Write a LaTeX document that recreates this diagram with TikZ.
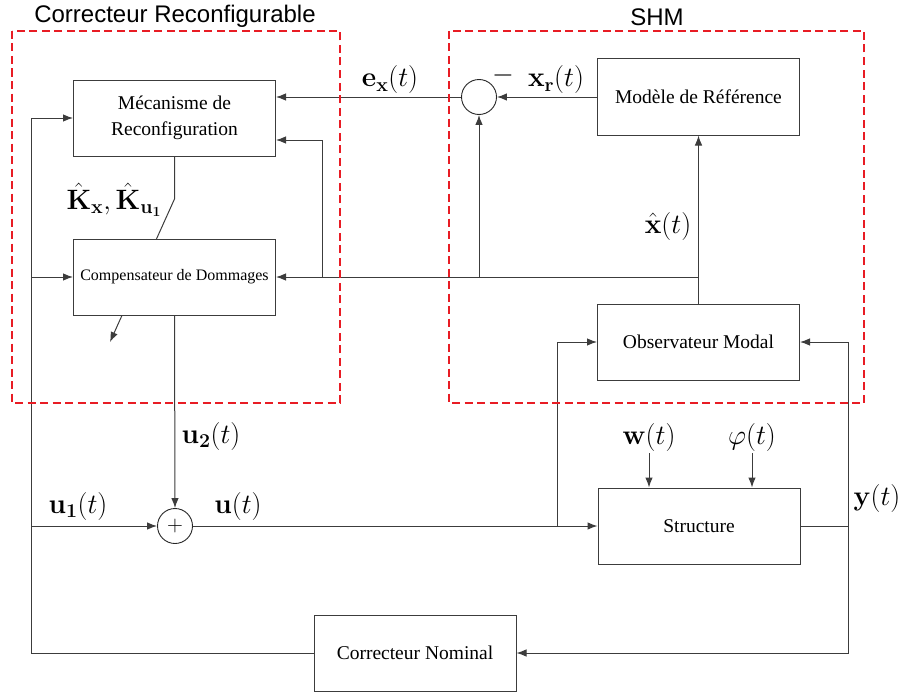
\RequirePackage{fix-cm}
\documentclass[tikz,border=0pt]{standalone}
\usepackage{amsmath}
\usepackage[no-math]{fontspec}
\setmainfont{Latin Modern Roman}
\newfontfamily\tnr{Liberation Serif}
\newfontfamily\hel{Liberation Sans}
\usetikzlibrary{arrows.meta,backgrounds,calc}
\definecolor{dred}{RGB}{232,28,36}
\definecolor{lgray}{RGB}{60,60,60}
\tikzset{
  box/.style={draw=lgray, line width=1pt, fill=white, minimum width=202pt, minimum height=76pt, inner sep=0pt, align=center, font=\tnr\fontsize{19.5}{26}\selectfont},
  sumc/.style={circle, draw=black!85, line width=0.9pt, fill=white, minimum size=35pt, inner sep=0pt, font=\fontsize{22}{24}\selectfont},
  arr/.style={-{Latex[length=10pt,width=7.5pt]}, line width=1pt, draw=lgray},
  ln/.style={line width=1pt, draw=lgray},
  lbl/.style={inner sep=0pt, font=\fontsize{28}{32}\selectfont},
  ttl/.style={inner sep=0pt, font=\hel\fontsize{24}{28}\selectfont},
  grp/.style={draw=dred, line width=1.3pt, dash pattern=on 8pt off 4.5pt}
}
\begin{document}
\begin{tikzpicture}[x=1pt,y=-1pt]
\useasboundingbox (0,0) rectangle (899,693);
% blocks
\node[box] (mec) at (174.5,118) {Mécanisme de\\Reconfiguration};
\node[box, font=\tnr\fontsize{16}{19}\selectfont] (comp) at (174.5,277) {Compensateur de Dommages};
\node[box] (mod) at (698.5,97) {Modèle de Référence};
\node[box] (obs) at (698.5,342) {Observateur Modal};
\node[box] (str) at (699,526) {Structure};
\node[box] (nom) at (415,653) {Correcteur Nominal};
\node[sumc] (minus) at (479,97) {};
\node[sumc] (plus) at (175,526) {$+$};
% titles
\node[ttl] (t1) at (175,16) {Correcteur Reconfigurable};
\node[ttl] (t2) at (657,17) {SHM};
% labels
\node[lbl] (lex) at (390,80) {$\mathbf{e_x}(t)$};
\node[lbl] (lxr) at (556,80) {$\mathbf{x_r}(t)$};
\node[lbl] (lm) at (503,75) {$-$};
\node[lbl] (lxh) at (668,226) {$\hat{\mathbf{x}}(t)$};
\node[lbl] (lk) at (114,200) {$\hat{\mathbf{K}}_{\mathbf{x}},\hat{\mathbf{K}}_{\mathbf{u_1}}$};
\node[lbl] (lu2) at (211,436) {$\mathbf{u_2}(t)$};
\node[lbl] (lu1) at (78,506) {$\mathbf{u_1}(t)$};
\node[lbl] (lu) at (238,506) {$\mathbf{u}(t)$};
\node[lbl] (lw) at (649,437) {$\mathbf{w}(t)$};
\node[lbl] (lphi) at (752,437) {$\varphi(t)$};
\node[lbl] (ly) at (877,498) {$\mathbf{y}(t)$};
% coordinates
\coordinate (lt) at (31,118);
\coordinate (lc) at (31,277);
\coordinate (lp) at (31,526);
\coordinate (j1) at (322,277);
\coordinate (j1t) at (322,140);
\coordinate (bo) at (557,526);
\coordinate (yj) at (848,526);
\coordinate (wt) at (649,453);
\coordinate (pt) at (752,453);
\coordinate (kb) at (174.5,199);
\coordinate (ktip) at (110,342);
% connectors
\draw[arr] (minus.west) -- (minus.west -| mec.east);
\draw[arr] (mod.west) -- (minus.east);
\draw[arr] (obs.north) -- (mod.south);
\draw[arr] (obs.north |- comp.east) -- (comp.east);
\draw[arr] (minus.south |- comp.east) -- (minus.south);
\draw[arr] (j1) -- (j1t) -- (j1t -| mec.east);
\draw[arr] (comp.south) -- (plus.north);
\draw[arr] (plus.east) -- (str.west);
\draw[arr] (bo) |- (obs.west);
\draw[ln] (str.east) -- (yj);
\draw[arr] (yj) |- (obs.east);
\draw[arr] (yj) |- (nom.east);
\draw[arr] (nom.west) -| (lt) -- (mec.west);
\draw[arr] (lc) -- (comp.west);
\draw[arr] (lp) -- (plus.west);
\draw[arr] (wt) -- (wt |- str.north);
\draw[arr] (pt) -- (pt |- str.north);
\begin{pgfonlayer}{background}
\draw[arr] (mec.south) -- (kb) -- (ktip);
\end{pgfonlayer}
% groups
\draw[grp] (12,31) rectangle (340,403);
\draw[grp] (449,31) rectangle (864,403);
\end{tikzpicture}
\end{document}
